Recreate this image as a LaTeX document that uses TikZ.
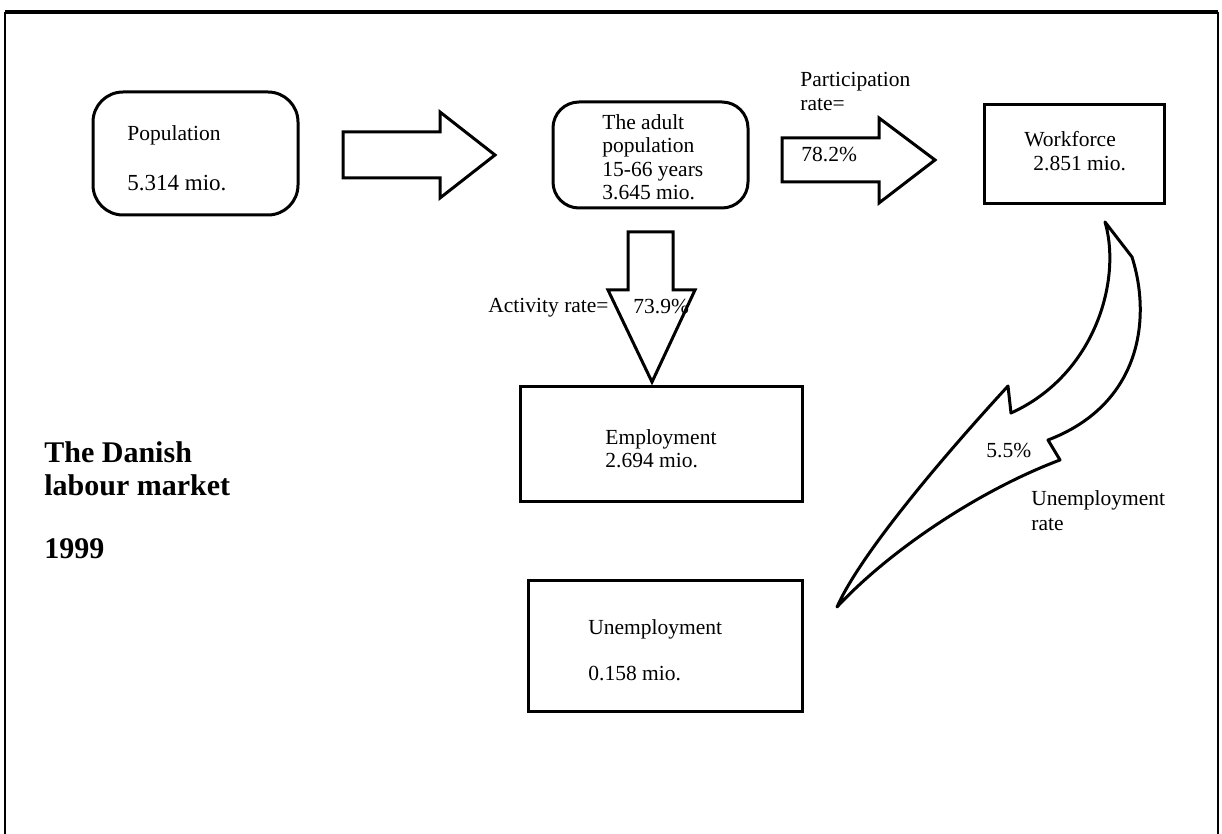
\documentclass[tikz,border=0pt]{standalone}
\usepackage{fontspec}
\setmainfont{Liberation Serif}

\begin{document}
\begin{tikzpicture}[x=0.5pt, y=-0.5pt,
    box/.style={draw, line width=1.5pt, inner sep=0pt},
    rbox/.style={box, rounded corners=#1},
    lbl/.style={anchor=west, align=left, inner sep=0pt, font=\fontsize{10.75}{11.7}\selectfont},
    title/.style={anchor=west, align=left, inner sep=0pt, font=\fontsize{15}{16.5}\selectfont\bfseries},
    fat/.style={draw, line width=1.5pt, line join=miter, fill=white}]
	\useasboundingbox (0,0) rectangle (1222,834);
	% frame, open at the bottom
	\draw[line width=1pt] (5,834) -- (5,12) (1218,12) -- (1218,834);
	\draw[line width=1.6pt] (5,12) -- (1218,12);
	% boxes
	\node[rbox=15pt, minimum width=102.5pt, minimum height=61.5pt] (pop) at (195.5,153.5) {};
	\node[rbox=13pt, minimum width=97.5pt, minimum height=53pt] (adult) at (650.5,155) {};
	\node[box, minimum width=90pt, minimum height=49.5pt] (work) at (1074,154.5) {};
	\node[box, minimum width=141pt, minimum height=57pt] (emp) at (661,444) {};
	\node[box, minimum width=137pt, minimum height=65.5pt] (unemp) at (665,645.5) {};
	\node[lbl] (popTxt) at (127,158) {Population\\[13.3pt]{\fontsize{11.5}{11.7}\selectfont 5.314 mio.}};
	\node[lbl] (adultTxt) at (602,157) {The adult\\population\\15-66 years\\3.645 mio.};
	\node[lbl] (workTxt) at (1024,151) {Workforce\\\hspace*{4.5pt}2.851 mio.};
	\node[lbl] (empTxt) at (605,448.5) {Employment\\2.694 mio.};
	\node[lbl] (unempTxt) at (588,650) {Unemployment\\[11.3pt]0.158 mio.};
	\node[title] (head) at (44,500) {The Danish\\labour market\\[15pt]1999};
	% block arrows
	\draw[fat] (343,132) -- (440,132) -- (440,112) -- (495,155) -- (440,198) -- (440,178) -- (343,178) -- cycle;
	\draw[fat] (628,232) -- (673,232) -- (673,290) -- (695,290) -- (652,382) -- (608,290) -- (628,290) -- cycle;
	\draw[fat] (782,138) -- (879,138) -- (879,118) -- (935,160) -- (879,203) -- (879,182) -- (782,182) -- cycle;
	% curved arrow
	\draw[fat, line join=round] (1105,222) -- (1132,257)
		.. controls (1152,320) and (1140,405) .. (1048,440) -- (1060,460)
		.. controls (980,490) and (890,550) .. (837,607)
		.. controls (860,555) and (940,460) .. (1008,386) -- (1011,413)
		.. controls (1095,375) and (1122,280) .. (1105,222) -- cycle;
	% rates
	\node[lbl] (actLbl) at (488,308) {Activity rate=};
	\node[lbl] (actVal) at (633,307) {73.9\%};
	\node[lbl] (partLbl) at (800,91.5) {Participation\\rate=};
	\node[lbl] (partVal) at (801,155) {78.2\%};
	\node[lbl] (unVal) at (986,451) {5.5\%};
	\node[lbl] (unLbl) at (1031,510.5) {Unemployment\\[0.8pt]rate};
\end{tikzpicture}
\end{document}
